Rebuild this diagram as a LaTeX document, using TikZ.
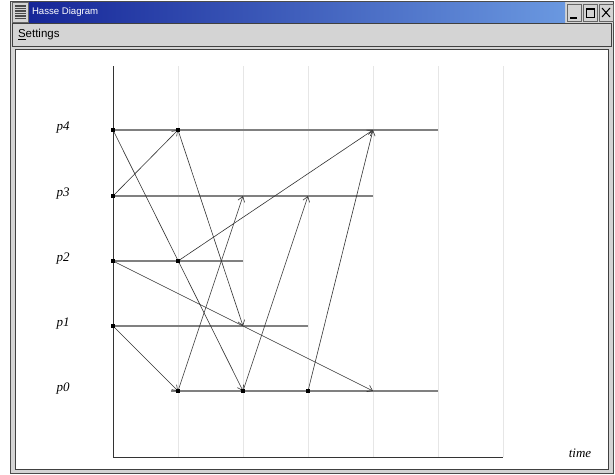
\documentclass[tikz,border=0pt]{standalone}
\usepackage{fontspec}
\setmainfont{Liberation Sans}
\newfontfamily\labelfont{Liberation Serif}
\usetikzlibrary{arrows.meta}
\definecolor{titleleft}{RGB}{22,38,152}
\definecolor{titleright}{RGB}{106,152,224}
\definecolor{chrome}{RGB}{212,212,212}
\definecolor{gridline}{RGB}{230,230,230}
\definecolor{procline}{RGB}{128,128,128}

\begin{document}
\begin{tikzpicture}[x=1pt, y=-1pt, >={Straight Barb[length=5pt,width=7pt]}, every node/.style={inner sep=0pt, outer sep=0pt}, ev/.style={fill=black, minimum size=3.6pt}, proc/.style={procline, line width=1.6pt}, msg/.style={->, black!80, line width=0.6pt}, plabel/.style={font=\labelfont\itshape\fontsize{13}{13}\selectfont}, btn/.style={draw=black!60, fill=chrome, minimum width=14pt, minimum height=17pt}]
\useasboundingbox (0,0) rectangle (615,474);
\fill[white] (0,0) rectangle (615,474);
\draw[black!70, fill=chrome] (10.5,1.5) rectangle (613.5,473);
\shade[left color=titleleft, right color=titleright] (29,2.5) rectangle (565,22);
\draw[black!60, fill=chrome] (12.5,2.5) rectangle (28,22);
\draw[black!70, line width=1.1pt] (15,6) -- (26,6) (15,8.5) -- (26,8.5) (15,11) -- (26,11) (15,13.5) -- (26,13.5) (15,16) -- (26,16) (15,18.5) -- (26,18.5);
\node[anchor=west, white, font=\fontsize{9.6}{10}\selectfont] (title) at (32,12.5) {Hasse Diagram};
\node[btn] (minbtn) at (574,12.5) {}; \node[btn] (maxbtn) at (590,12.5) {}; \node[btn] (closebtn) at (606,12.5) {};
\draw[black, line width=1.6pt] (570,18) -- (577,18);
\draw[black, line width=0.9pt] (586,8.5) rectangle (594,17.5); \draw[black, line width=1.5pt] (586,9) -- (594,9);
\draw[black, line width=1pt] (602,8) -- (610,17) (610,8) -- (602,17);
\draw[black!75, fill=chrome] (12.5,23.5) rectangle (611.5,46.5);
\node[anchor=west, font=\fontsize{11.5}{12}\selectfont] (menu) at (18,35) {\underline{S}ettings};
\draw[black!75, line width=1pt, fill=white] (15.5,49.5) rectangle (608.5,469);
\draw[gridline, line width=0.8pt] (178,66) -- (178,457) (243,66) -- (243,457) (308,66) -- (308,457) (373,66) -- (373,457) (438,66) -- (438,457) (503,66) -- (503,457);
\draw[black!80, line width=0.8pt] (113,66) -- (113,457) -- (503,457);
\node[plabel] (l4) at (63,128) {p4};
\node[plabel] (l3) at (63,194) {p3};
\node[plabel] (l2) at (63,259) {p2};
\node[plabel] (l1) at (63,324) {p1};
\node[plabel] (l0) at (63,389) {p0};
\node[plabel] (time) at (580,453) {time};
\node[ev] (p4a) at (113,130) {}; \node[ev] (p4b) at (178,130) {};
\node[ev] (p3a) at (113,196) {};
\node[ev] (p2a) at (113,261) {}; \node[ev] (p2b) at (178,261) {};
\node[ev] (p1a) at (113,326) {};
\node[ev] (p0a) at (178,391) {}; \node[ev] (p0b) at (243,391) {}; \node[ev] (p0c) at (308,391) {};
\coordinate (p4end) at (438,130); \coordinate (p3end) at (373,196); \coordinate (p2end) at (243,261); \coordinate (p1end) at (308,326); \coordinate (p0start) at (171,391); \coordinate (p0end) at (438,391);
\coordinate (r4) at (373,130); \coordinate (r3a) at (243,196); \coordinate (r3b) at (308,196); \coordinate (r1) at (243,326); \coordinate (r0) at (373,391);
\draw[proc] (p4a.center) -- (p4end); \draw[proc] (p3a.center) -- (p3end); \draw[proc] (p2a.center) -- (p2end); \draw[proc] (p1a.center) -- (p1end); \draw[proc] (p0start) -- (p0end);
\draw[msg] (p4a.center) -- (p0b.center); \draw[msg] (p3a.center) -- (p4b.center); \draw[msg] (p4b.center) -- (r1); \draw[msg] (p2a.center) -- (r0); \draw[msg] (p2b.center) -- (r4); \draw[msg] (p1a.center) -- (p0a.center); \draw[msg] (p0a.center) -- (r3a); \draw[msg] (p0b.center) -- (r3b); \draw[msg] (p0c.center) -- (r4);
\node[ev] at (p4a) {}; \node[ev] at (p4b) {}; \node[ev] at (p3a) {}; \node[ev] at (p2a) {}; \node[ev] at (p2b) {}; \node[ev] at (p1a) {}; \node[ev] at (p0a) {}; \node[ev] at (p0b) {}; \node[ev] at (p0c) {};
\end{tikzpicture}
\end{document}
